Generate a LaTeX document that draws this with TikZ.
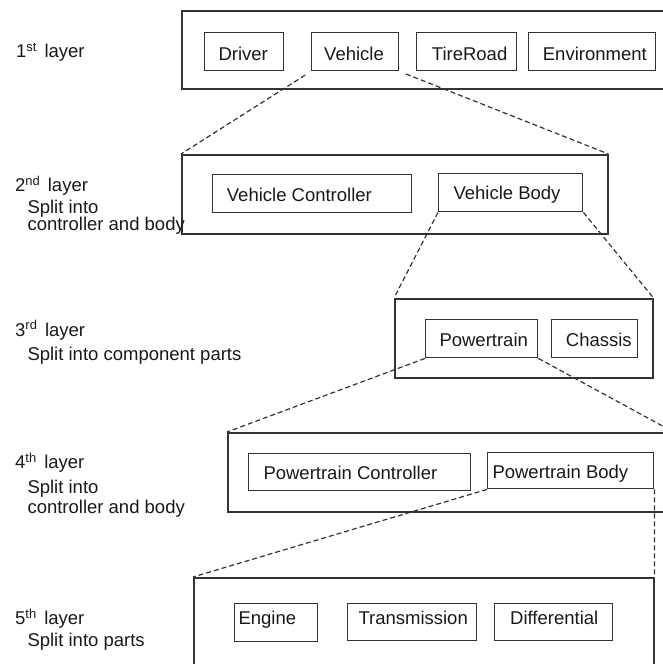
\documentclass[tikz,border=0pt]{standalone}
\usepackage{fontspec}
\setmainfont{Liberation Sans}
\begin{document}
\begin{tikzpicture}[x=1pt,y=-1pt,
  every node/.style={font=\fontsize{18.5}{22}\selectfont, inner sep=0pt},
  frame/.style={draw=black!80, line width=1.5pt, anchor=north west},
  part/.style={draw=black!80, line width=1.4pt, anchor=north west},
  txt/.style={anchor=base west, text=black!90},
  zoomline/.style={draw=black!80, line width=1.2pt, dash pattern=on 5pt off 3pt}]
\useasboundingbox (0,0) rectangle (663,664);

% ---- layer 1 ----
\node[frame, minimum width=491pt, minimum height=78pt] (L1) at (181,10) {};
\node[part, minimum width=79pt,  minimum height=38pt] (drv) at (204,32) {};
\node[part, minimum width=87pt,  minimum height=38pt] (veh) at (311,32) {};
\node[part, minimum width=100pt, minimum height=38pt] (tire) at (416,32) {};
\node[part, minimum width=127pt, minimum height=38pt] (env) at (528,32) {};
\node[txt] (drvT)  at (218.3,60.7) {Driver};
\node[txt] (vehT)  at (324,60.7) {Vehicle};
\node[txt] (tireT) at (431.7,60.5) {TireRoad};
\node[txt] (envT)  at (542.7,60.5) {Environment};
\node[txt] (lab1) at (16,57.5) {1\textsuperscript{st}\hspace{7.5pt}layer};

% ---- layer 2 ----
\node[frame, minimum width=426pt, minimum height=79pt] (L2) at (181,154) {};
\node[part, minimum width=199pt, minimum height=38pt] (vc) at (212,174) {};
\node[part, minimum width=144pt, minimum height=38pt] (vb) at (438,173) {};
\node[txt] (vcT) at (226.7,201) {Vehicle Controller};
\node[txt] (vbT) at (453.3,199.5) {Vehicle Body};
\node[txt] (lab2a) at (15,191.7) {2\textsuperscript{nd}\hspace{7.5pt}layer};
\node[txt] (lab2b) at (27.3,213.3) {Split into};
\node[txt] (lab2c) at (27.3,230.5) {controller and body};

% ---- layer 3 ----
\node[frame, minimum width=258pt, minimum height=79pt] (L3) at (394,298) {};
\node[part, minimum width=112pt, minimum height=38pt] (pt) at (425,319) {};
\node[part, minimum width=86pt,  minimum height=38pt] (ch) at (551,319) {};
\node[txt] (ptT) at (439.3,346) {Powertrain};
\node[txt] (chT) at (565.7,346) {Chassis};
\node[txt] (lab3a) at (15,336) {3\textsuperscript{rd}\hspace{7.5pt}layer};
\node[txt] (lab3b) at (27.3,360) {Split into component parts};

% ---- layer 4 ----
\node[frame, minimum width=445pt, minimum height=79pt] (L4) at (227,432) {};
\node[part, minimum width=222pt, minimum height=37pt] (pc) at (248,453) {};
\node[part, minimum width=166pt, minimum height=36pt] (pb) at (487,452) {};
\node[txt] (pcT) at (263.3,479) {Powertrain Controller};
\node[txt] (pbT) at (492.3,478.5) {Powertrain Body};
\node[txt] (lab4a) at (15,468.3) {4\textsuperscript{th}\hspace{7.5pt}layer};
\node[txt] (lab4b) at (27.3,493) {Split into};
\node[txt] (lab4c) at (27.3,513.5) {controller and body};

% ---- layer 5 ----
\node[frame, minimum width=460pt, minimum height=110pt] (L5) at (193,577) {};
\node[part, minimum width=83pt,  minimum height=38pt] (eng) at (234,603) {};
\node[part, minimum width=129pt, minimum height=37pt] (trn) at (347,603) {};
\node[part, minimum width=118pt, minimum height=37pt] (dif) at (494,603) {};
\node[txt] (engT) at (238.3,624.3) {Engine};
\node[txt] (trnT) at (358.3,624.3) {Transmission};
\node[txt] (difT) at (510,624.3) {Differential};
\node[txt] (lab5a) at (15,624.3) {5\textsuperscript{th}\hspace{7.5pt}layer};
\node[txt] (lab5b) at (27.3,646.7) {Split into parts};

% ---- zoom-in connectors ----
\draw[zoomline, shorten <=7pt] (veh.south west) -- (L2.north west);
\draw[zoomline, shorten <=7pt] (veh.south east) -- (L2.north east);
\draw[zoomline] (vb.south west) -- (L3.north west);
\draw[zoomline] (vb.south east) -- (L3.north east);
\draw[zoomline] (pt.south west) -- (L4.north west);
\draw[zoomline] (pt.south east) -- (L4.north east);
\draw[zoomline] (pb.south west) -- (L5.north west);
\draw[zoomline] (pb.south east) -- (L5.north east);
\end{tikzpicture}
\end{document}
